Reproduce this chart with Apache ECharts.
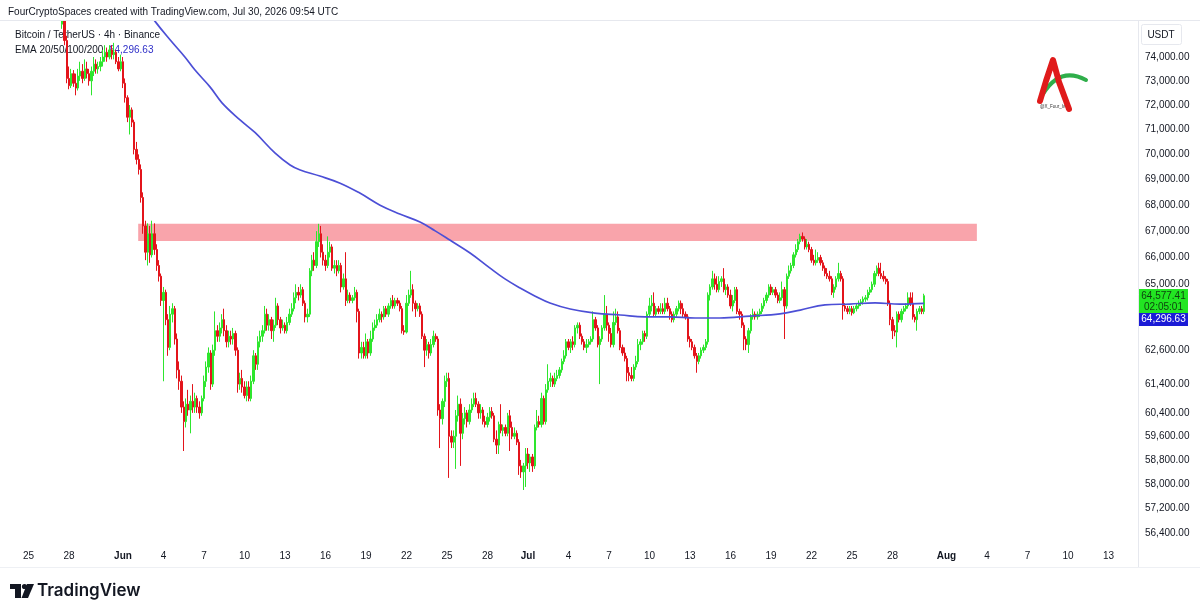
<!DOCTYPE html>
<html>
<head>
<meta charset="utf-8">
<script src="https://cdn.jsdelivr.net/npm/echarts@6/dist/echarts.min.js"></script>
<style>
html, body { margin: 0; padding: 0; background: #fff; }
#chart { width: 1200px; height: 616px; }
</style>
</head>
<body>
<div id="chart"></div>
<script>
// BTC/USDT 4h candles, first bar May 27 12:00 UTC, rows are [open, close, low, high]
const firstBar = '2026-05-27 12:00';
const barHours = 4;
const ohlc = [
    // May 27 (12h, 16h, 20h)
    [75400,75700,75200,76500],[75700,74700,74500,76300],[74700,73100,72900,74900],
    // May 28
    [73100,72800,72650,73600],[72800,73300,72700,73500],[73300,72900,72750,73450],[72900,72700,72400,73300],[72700,73200,72600,73500],[73200,73400,73000,73800],
    // May 29
    [73400,73100,72900,73700],[73100,73500,73000,73900],[73500,73300,73100,73800],[73300,73000,72800,73500],[73000,73400,72400,73600],[73400,73700,73200,74000],
    // May 30
    [73700,73500,73300,73900],[73500,73600,73300,73800],[73600,73800,73400,74000],[73800,74000,73600,74300],[74000,74200,73800,74500],[74200,74000,73800,74400],
    // May 31
    [74000,74300,73900,74500],[74300,74100,73900,74500],[74100,74200,73900,74600],[74200,73800,73700,74300],[73800,73500,73400,74000],[73500,73800,73400,74100],
    // Jun 1
    [73800,72900,72700,74000],[72900,72300,72100,73100],[72300,71500,71300,72400],[71500,71800,70800,72000],[71800,71300,71100,71900],[71300,70200,70000,71400],
    // Jun 2
    [70200,69800,69600,70500],[69800,69400,69200,70000],[69400,68300,68100,69600],[68300,67200,66900,68500],[67200,66200,65900,67400],[66200,66900,65700,67300],
    // Jun 3
    [66900,66100,65800,67200],[66100,66900,66000,67400],[66900,66300,66100,67300],[66300,65700,65500,66500],[65700,65300,65100,65900],[65300,64400,64200,65400],
    // Jun 4
    [64400,64700,61500,64900],[64700,63700,63500,64800],[63700,62700,62400,63900],[62700,63900,62600,64200],[63900,64100,63600,64300],[64100,63000,62800,64200],
    // Jun 5
    [63000,61900,61600,63200],[61900,61500,61200,62200],[61500,60600,60400,61700],[60600,60100,59100,60800],[60100,60700,59900,60900],[60700,60500,60300,61200],
    // Jun 6
    [60500,60800,59700,61000],[60800,60600,60400,61400],[60600,60900,60400,61100],[60900,60600,60400,61000],[60600,60400,60200,60800],[60400,60900,60300,61000],
    // Jun 7
    [60900,61500,60800,61700],[61500,62000,61300,62200],[62000,62500,61800,62700],[62500,61400,61200,62600],[61400,62600,61300,62800],[62600,63300,62400,64000],
    // Jun 8
    [63300,63100,62900,63500],[63100,63400,62900,63600],[63400,63700,63200,63900],[63700,63300,63100,64100],[63300,62900,62700,63500],[62900,63100,62700,63300],
    // Jun 9
    [63100,63000,62800,63300],[63000,63200,62800,63400],[63200,62600,62400,63300],[62600,61400,61100,62700],[61400,61600,61200,61800],[61600,61300,61100,61900],
    // Jun 10
    [61300,61000,60900,61500],[61000,61300,60800,61500],[61300,60900,60800,61500],[60900,61500,60800,61700],[61500,62400,61400,62600],[62400,62100,61900,62500],
    // Jun 11
    [62100,62900,61900,63100],[62900,63100,62700,63300],[63100,63300,62900,63500],[63300,63900,63200,64200],[63900,63500,63300,64100],[63500,63700,63300,63900],
    // Jun 12
    [63700,63300,63000,63800],[63300,63500,62900,63700],[63500,64200,63400,64500],[64200,63700,63500,64300],[63700,63400,63200,63800],[63400,63500,63300,63700],
    // Jun 13
    [63500,63300,63200,63600],[63300,63600,63200,63800],[63600,63900,63500,64100],[63900,64100,63800,64300],[64100,64500,64000,64700],[64500,64700,64300,65000],
    // Jun 14
    [64700,64600,64400,64900],[64600,64800,64500,65000],[64800,64300,64200,64900],[64300,63800,63600,64400],[63800,63900,63600,64100],[63900,65500,63800,65600],
    // Jun 15
    [65500,65900,65300,66100],[65900,65700,65500,66200],[65700,66600,65600,67000],[66600,66900,66400,67280],[66900,66200,66000,67200],[66200,65900,65700,66500],
    // Jun 16
    [65900,65700,65500,66100],[65700,66200,65600,66800],[66200,66400,66000,66600],[66400,65600,65500,66500],[65600,65700,65400,65900],[65700,65500,65300,65900],
    // Jun 17
    [65500,65700,65400,65900],[65700,64900,64700,65800],[64900,65200,64800,65400],[65200,64400,64200,66200],[64400,64600,64300,64800],[64600,64400,64300,64700],
    // Jun 18
    [64400,64500,64300,64600],[64500,64700,64400,64900],[64700,64000,63600,64800],[64000,62500,62300,64100],[62500,62700,62300,62900],[62700,62400,62300,62900],
    // Jun 19
    [62400,62900,62300,63200],[62900,62500,62300,63000],[62500,63000,62400,63300],[63000,63400,62900,63600],[63400,63500,63300,63700],[63500,63700,63400,63900],
    // Jun 20
    [63700,63900,63600,64100],[63900,63800,63600,64000],[63800,64100,63700,64200],[64100,63900,63800,64200],[63900,64200,63800,64300],[64200,64400,64100,64500],
    // Jun 21
    [64400,64200,64100,64600],[64200,64400,64100,64500],[64400,64300,64200,64500],[64300,64100,64000,64400],[64100,63300,63200,64200],[63300,63250,63150,63500],
    // Jun 22
    [63250,64300,63200,64600],[64300,64600,64200,64800],[64600,64800,64500,65500],[64800,64300,64000,65000],[64300,64100,63800,64400],[64100,64200,64000,64300],
    // Jun 23
    [64200,63900,63800,64300],[63900,63100,63000,64000],[63100,62600,62000,63200],[62600,62800,62400,63000],[62800,62500,62300,62900],[62500,62800,62400,63000],
    // Jun 24
    [62800,63100,62700,63300],[63100,63000,62900,63200],[63000,60500,60300,63100],[60500,60200,59200,60700],[60200,60800,60000,60900],[60800,61500,60600,61700],
    // Jun 25
    [61500,61600,61300,61800],[61600,59600,58200,61800],[59600,59400,59200,59800],[59400,59600,59200,59800],[59600,60300,58500,60500],[60300,60700,60100,61000],
    // Jun 26
    [60700,59700,58600,60900],[59700,60200,59500,60400],[60200,60400,60000,60600],[60400,60100,59900,60500],[60100,60500,60000,60700],[60500,60700,60400,60900],
    // Jun 27
    [60700,60900,60600,61100],[60900,60700,60600,61100],[60700,60400,60200,60800],[60400,60500,60200,60700],[60500,60100,60000,60600],[60100,60000,59900,60300],
    // Jun 28
    [60000,60250,59900,60400],[60250,60450,60100,60600],[60450,60300,60200,60600],[60300,59500,59400,60400],[59500,59300,59000,59800],[59300,60000,59000,60100],
    // Jun 29
    [60000,59800,59700,60700],[59800,59900,59600,60000],[59900,59700,59600,60000],[59700,60300,59600,60400],[60300,59900,59100,60500],[59900,59600,59500,60100],
    // Jun 30
    [59600,59700,59500,59900],[59700,59400,59300,59800],[59400,58600,58300,59500],[58600,58400,58200,58800],[58400,58600,57800,58700],[58600,59000,57900,59200],
    // Jul 1
    [59000,58700,58500,59200],[58700,58900,58400,59000],[58900,58600,58400,59000],[58600,59900,58500,60000],[59900,60100,59800,60500],[60100,60000,59900,60300],
    // Jul 2
    [60000,60900,59900,61100],[60900,60100,60000,61000],[60100,61200,60000,61400],[61200,61500,61100,62100],[61500,61600,61300,61800],[61600,61400,61300,61700],
    // Jul 3
    [61400,61600,61300,61800],[61600,61700,61500,61900],[61700,61900,61600,62000],[61900,62200,61800,62300],[62200,62400,62100,62600],[62400,62900,62300,63000],
    // Jul 4
    [62900,62700,62600,63000],[62700,62900,62500,63000],[62900,62800,62600,63100],[62800,63400,62700,63500],[63400,63500,63200,63600],[63500,63100,63000,63600],
    // Jul 5
    [63100,62900,62800,63200],[62900,62700,62600,63000],[62700,62800,62500,63000],[62800,62900,62700,63000],[62900,63000,62800,63100],[63000,63700,62900,64000],
    // Jul 6
    [63700,63400,63300,63800],[63400,62800,62700,63500],[62800,63000,61400,63100],[63000,63400,62900,63500],[63400,63900,63300,64600],[63900,63500,63300,64200],
    // Jul 7
    [63500,63200,62900,63600],[63200,62800,62700,63400],[62800,63600,62700,64000],[63600,63800,63500,64100],[63800,63300,63200,64000],[63300,62700,62600,63400],
    // Jul 8
    [62700,62500,62400,62800],[62500,62300,62200,62700],[62300,61800,61500,62400],[61800,61700,61500,62000],[61700,61600,61500,62000],[61600,62000,61500,62100],
    // Jul 9
    [62000,62200,61900,62400],[62200,62800,62100,63000],[62800,62900,62600,63000],[62900,63200,62800,63300],[63200,63100,62900,63300],[63100,63900,63000,64000],
    // Jul 10
    [63900,64200,63800,64500],[64200,64300,64000,64600],[64300,63900,63800,64700],[63900,64100,63800,64200],[64100,64000,63900,64200],[64000,64100,63900,64300],
    // Jul 11
    [64100,64000,63900,64300],[64000,64300,63900,64500],[64300,64100,64000,64500],[64100,63900,63700,64200],[63900,63700,63600,64000],[63700,63900,63600,64000],
    // Jul 12
    [63900,64100,63800,64200],[64100,64300,64000,64400],[64300,64100,63900,64400],[64100,63900,63800,64300],[63900,63800,63700,64000],[63800,63000,62900,63900],
    // Jul 13
    [63000,62900,62700,63100],[62900,62700,62600,63000],[62700,62400,62300,62800],[62400,62200,61800,62500],[62200,62400,62100,62500],[62400,62600,62300,62700],
    // Jul 14
    [62600,62700,62500,62800],[62700,62900,62600,63000],[62900,64600,62800,64700],[64600,64900,64400,65000],[64900,65200,64800,65500],[65200,65000,64800,65400],
    // Jul 15
    [65000,64800,64700,65300],[64800,65100,64700,65300],[65100,65200,64900,65300],[65200,64800,64700,65600],[64800,64900,64600,65000],[64900,64600,64500,65000],
    // Jul 16
    [64600,64200,64100,64800],[64200,64400,64000,64600],[64400,64800,64300,64900],[64800,64000,63900,64900],[64000,63900,63700,64100],[63900,63500,63400,64000],
    // Jul 17
    [63500,63000,62600,63600],[63000,62800,62600,63100],[62800,63300,62500,63400],[63300,63800,63200,63900],[63800,63900,63700,64100],[63900,63800,63700,64000],
    // Jul 18
    [63800,63900,63700,64000],[63900,64000,63800,64100],[64000,64200,63900,64300],[64200,64400,64100,64500],[64400,64600,64300,64700],[64600,64900,64500,65000],
    // Jul 19
    [64900,64700,64600,65000],[64700,64800,64600,64900],[64800,64600,64500,64900],[64600,64400,64300,64700],[64400,64500,64300,64700],[64500,64800,64400,65100],
    // Jul 20
    [64800,64200,63000,64900],[64200,65300,64100,65400],[65300,65500,65200,65700],[65500,65700,65400,65800],[65700,66100,65600,66200],[66100,66300,66000,66500],
    // Jul 21
    [66300,66600,66200,66700],[66600,66800,66500,66900],[66800,66700,66600,66950],[66700,66400,66300,66800],[66400,66500,66300,66700],[66500,66300,66200,66600],
    // Jul 22
    [66300,65900,65800,66400],[65900,65800,65700,66100],[65800,65900,65700,66300],[65900,66000,65800,66200],[66000,65800,65700,66100],[65800,65600,65500,65900],
    // Jul 23
    [65600,65400,65300,65700],[65400,65300,65200,65600],[65300,65200,65100,65500],[65200,64700,64600,65300],[64700,64900,64500,65000],[64900,65200,64800,65300],
    // Jul 24
    [65200,65400,65100,65800],[65400,65200,65100,65500],[65200,64200,63700,65300],[64200,64100,64000,64300],[64100,64000,63900,64200],[64000,64100,63900,64200],
    // Jul 25
    [64100,63950,63850,64200],[63950,64100,63900,64200],[64100,64200,64000,64300],[64200,64300,64100,64400],[64300,64350,64200,64450],[64350,64450,64250,64550],
    // Jul 26
    [64450,64500,64350,64600],[64500,64700,64400,64800],[64700,64800,64600,64900],[64800,65000,64700,65100],[65000,65400,64900,65500],[65400,65600,65300,65700],
    // Jul 27
    [65600,65400,65300,65800],[65400,65300,65200,65800],[65300,65200,65100,65500],[65200,65100,65000,65300],[65100,64300,64200,65200],[64300,63700,63500,64400],
    // Jul 28
    [63700,63300,63000,63800],[63300,63250,63100,63500],[63250,63900,62700,64000],[63900,63700,63600,64000],[63700,64000,63600,64100],[64000,64100,63900,64200],
    // Jul 29
    [64100,64200,64000,64300],[64200,64500,64100,64700],[64500,64300,64200,64700],[64300,63800,63700,64700],[63800,63700,63600,63900],[63700,64000,63300,64100],
    // Jul 30 (00h, 04h, 08h)
    [64000,64100,63900,64200],[64100,64000,63900,64200],[64000,64577.41,63900,64650]
];

// EMA 200
const emaTimes = [
    '2026-06-02 06:00', '2026-06-03 09:00', '2026-06-04 12:00', '2026-06-05 14:00', '2026-06-06 08:00',
    '2026-06-07 11:00', '2026-06-08 08:00', '2026-06-09 16:00', '2026-06-10 19:00', '2026-06-12 06:00',
    '2026-06-13 09:00', '2026-06-14 03:00', '2026-06-15 14:00', '2026-06-17 02:00', '2026-06-18 13:00',
    '2026-06-20 01:00', '2026-06-21 12:00', '2026-06-23 00:00', '2026-06-24 03:00', '2026-06-25 05:00',
    '2026-06-26 17:00', '2026-06-28 04:00', '2026-06-29 07:00', '2026-06-30 10:00', '2026-07-01 12:00',
    '2026-07-02 15:00', '2026-07-04 03:00', '2026-07-05 23:00', '2026-07-07 20:00', '2026-07-09 16:00',
    '2026-07-11 12:00', '2026-07-13 09:00', '2026-07-15 05:00', '2026-07-17 11:00', '2026-07-19 16:00',
    '2026-07-21 04:00', '2026-07-23 00:00', '2026-07-24 20:00', '2026-07-26 17:00', '2026-07-28 13:00',
    '2026-07-30 08:00'
];
const emaValues = [
    76450, 75520, 74720, 74000, 73450,
    72740, 72090, 71390, 70870, 70060,
    69580, 69380, 69140, 68860, 68470,
    68000, 67660, 67350, 67010, 66660,
    66170, 65610, 65200, 64860, 64570,
    64310, 64090, 63940, 63870, 63800,
    63800, 63760, 63760, 63830, 63910,
    64050, 64240, 64270, 64310, 64270,
    64296.63
];

const lastPrice = 64577.41;
const lastEma = 64296.63;
const barCountdown = '02:05:01';

// resistance zone drawn on the chart
const zoneFrom = '2026-06-02 03:00';
const zoneTo = '2026-08-03 06:00';
const zoneLow = 66620;
const zoneHigh = 67280;

const xTickDates = [
    '2026-05-25', '2026-05-28', '2026-06-01', '2026-06-04', '2026-06-07', '2026-06-10', '2026-06-13',
    '2026-06-16', '2026-06-19', '2026-06-22', '2026-06-25', '2026-06-28', '2026-07-01', '2026-07-04',
    '2026-07-07', '2026-07-10', '2026-07-13', '2026-07-16', '2026-07-19', '2026-07-22', '2026-07-25',
    '2026-07-28', '2026-08-01', '2026-08-04', '2026-08-07', '2026-08-10', '2026-08-13'
];
const xTickLabels = [
    '25', '28', 'Jun', '4', '7', '10', '13',
    '16', '19', '22', '25', '28', 'Jul', '4',
    '7', '10', '13', '16', '19', '22', '25',
    '28', 'Aug', '4', '7', '10', '13'
];
const yTicks = [74000, 73000, 72000, 71000, 70000, 69000, 68000, 67000, 66000, 65000,
    62600, 61400, 60400, 59600, 58800, 58000, 57200, 56400];

function utc(s) {
    const parts = s.split(' ');
    return Date.parse(parts[0] + 'T' + (parts[1] || '00:00') + ':00Z');
}

function fmtPrice(v) {
    return Number(v).toLocaleString('en-US', {minimumFractionDigits: 2, maximumFractionDigits: 2});
}

const FONT = 'Liberation Sans';
const TEXT = '#131722';

const start = utc(firstBar);
const candleData = ohlc.map((r, i) => [start + i * barHours * 3600000, r[0], r[1], r[2], r[3]]);
const emaData = emaTimes.map((t, i) => [utc(t), emaValues[i]]);

const labelByTime = {};
xTickDates.forEach((d, i) => { labelByTime[utc(d)] = xTickLabels[i]; });

function baseGraphics() {
    return [
        // header strip hides anything poking above the pane
        {type: 'rect', z: 50, shape: {x: 0, y: 0, width: 1200, height: 20.5}, style: {fill: '#fff'}},
        {type: 'text', z: 51, left: 8, top: 7, style: {text: 'FourCryptoSpaces created with TradingView.com, Jul 30, 2026 09:54 UTC', fill: TEXT, font: '10px "' + FONT + '"'}},
        {type: 'line', z: 51, shape: {x1: 0, y1: 20.5, x2: 1200, y2: 20.5}, style: {stroke: '#e6e8ee', lineWidth: 1}},
        {type: 'line', shape: {x1: 1138.5, y1: 21, x2: 1138.5, y2: 568}, style: {stroke: '#e6e8ee', lineWidth: 1}},
        {type: 'line', shape: {x1: 0, y1: 567.5, x2: 1200, y2: 567.5}, style: {stroke: '#eef0f4', lineWidth: 1}},
        {type: 'text', left: 15, top: 30, style: {text: 'Bitcoin / TetherUS · 4h · Binance', fill: TEXT, font: '10px "' + FONT + '"'}},
        {type: 'text', left: 15, top: 45, style: {
            text: '{a|EMA 20/50/100/200  }{b|' + fmtPrice(lastEma) + '}',
            rich: {
                a: {fill: TEXT, fontSize: 10, fontFamily: FONT},
                b: {fill: '#2f2fc8', fontSize: 10, fontFamily: FONT}
            }
        }},
        // USDT currency box
        {type: 'rect', shape: {x: 1141.5, y: 24.5, width: 40, height: 20, r: 2}, style: {fill: '#fff', stroke: '#e6e8ee', lineWidth: 1}},
        {type: 'text', x: 1161, y: 35, style: {text: 'USDT', fill: TEXT, font: '10px "' + FONT + '"', align: 'center', verticalAlign: 'middle'}},
        // watermark logo
        {type: 'bezierCurve', shape: {x1: 1043, y1: 94, cpx1: 1060, cpy1: 66, x2: 1086, y2: 80}, style: {stroke: '#2fae4a', lineWidth: 4, fill: null, lineCap: 'round'}},
        {type: 'polyline', shape: {points: [[1040, 101], [1046, 81], [1053, 60], [1059, 82], [1069, 109]]}, style: {stroke: '#e01b1b', lineWidth: 6, fill: null, lineCap: 'round', lineJoin: 'round'}},
        {type: 'text', x: 1040, y: 104, style: {text: '@X_Four_lv', fill: '#333', font: '4.5px "' + FONT + '"'}},
        // TradingView wordmark
        {type: 'rect', shape: {x: 10, y: 584, width: 11, height: 5}, style: {fill: TEXT}},
        {type: 'rect', shape: {x: 15, y: 584, width: 6, height: 14}, style: {fill: TEXT}},
        {type: 'circle', shape: {cx: 24.5, cy: 586.5, r: 2.6}, style: {fill: TEXT}},
        {type: 'polygon', shape: {points: [[27, 584], [34, 584], [28, 598], [21.5, 598]]}, style: {fill: TEXT}},
        {type: 'text', left: 37, top: 582, style: {text: 'TradingView', fill: TEXT, font: '600 17px Inter'}}
    ];
}

function priceBoxes(yLast) {
    const top = Math.round(yLast) - 7;
    return [
        {type: 'rect', shape: {x: 1139, y: top, width: 49, height: 24}, style: {fill: '#22e522'}},
        {type: 'text', x: 1163.5, y: top + 7, style: {text: fmtPrice(lastPrice), fill: '#0e3f0e', font: '10px "' + FONT + '"', align: 'center', verticalAlign: 'middle'}},
        {type: 'text', x: 1163.5, y: top + 18, style: {text: barCountdown, fill: '#0e3f0e', font: '10px "' + FONT + '"', align: 'center', verticalAlign: 'middle'}},
        {type: 'rect', shape: {x: 1139, y: top + 24, width: 49, height: 13}, style: {fill: '#1b1bd6'}},
        {type: 'text', x: 1163.5, y: top + 30.5, style: {text: fmtPrice(lastEma), fill: '#fff', font: '10px "' + FONT + '"', align: 'center', verticalAlign: 'middle'}}
    ];
}

const option = {
    animation: false,
    backgroundColor: '#fff',
    grid: {left: 0, right: 62, top: 21, bottom: 76, outerBoundsMode: 'none', containLabel: false},
    xAxis: {
        type: 'value',
        min: utc('2026-05-22 21:20'),
        max: utc('2026-08-15 04:27'),
        axisLine: {show: false},
        axisTick: {show: false},
        splitLine: {show: false},
        axisLabel: {
            customValues: xTickDates.map(utc),
            margin: 11,
            color: TEXT,
            fontFamily: FONT,
            fontSize: 10,
            formatter: v => {
                const t = labelByTime[v] || '';
                return /^[A-Z]/.test(t) ? '{m|' + t + '}' : t;
            },
            rich: {m: {fontWeight: 'bold', fontSize: 10, fontFamily: FONT, color: TEXT}}
        }
    },
    yAxis: {
        type: 'log',
        position: 'right',
        min: 56174,
        max: 75536,
        axisLine: {show: false},
        axisTick: {show: false},
        splitLine: {show: false},
        axisLabel: {
            customValues: yTicks,
            margin: 7,
            color: TEXT,
            fontFamily: FONT,
            fontSize: 10,
            formatter: v => fmtPrice(Math.round(v))
        }
    },
    series: [
        {
            type: 'candlestick',
            data: candleData,
            encode: {x: 0, y: [1, 2, 3, 4]},
            barWidth: 1.6,
            itemStyle: {
                color: '#2ee62e',
                color0: '#e3141b',
                borderColor: '#2ee62e',
                borderColor0: '#e3141b',
                borderWidth: 1
            },
            markArea: {
                silent: true,
                itemStyle: {color: 'rgba(242,54,69,0.45)'},
                data: [[
                    {xAxis: utc(zoneFrom), yAxis: zoneHigh},
                    {xAxis: utc(zoneTo), yAxis: zoneLow}
                ]]
            }
        },
        {
            type: 'line',
            data: emaData,
            smooth: 0.4,
            showSymbol: false,
            z: 3,
            lineStyle: {color: '#4c4fd6', width: 1.7}
        }
    ],
    graphic: baseGraphics()
};

const chart = echarts.init(document.getElementById('chart'));
chart.setOption(option);
const yLast = chart.convertToPixel({yAxisIndex: 0}, lastPrice);
option.graphic = baseGraphics().concat(priceBoxes(yLast));
chart.setOption(option, true);
</script>
</body>
</html>
